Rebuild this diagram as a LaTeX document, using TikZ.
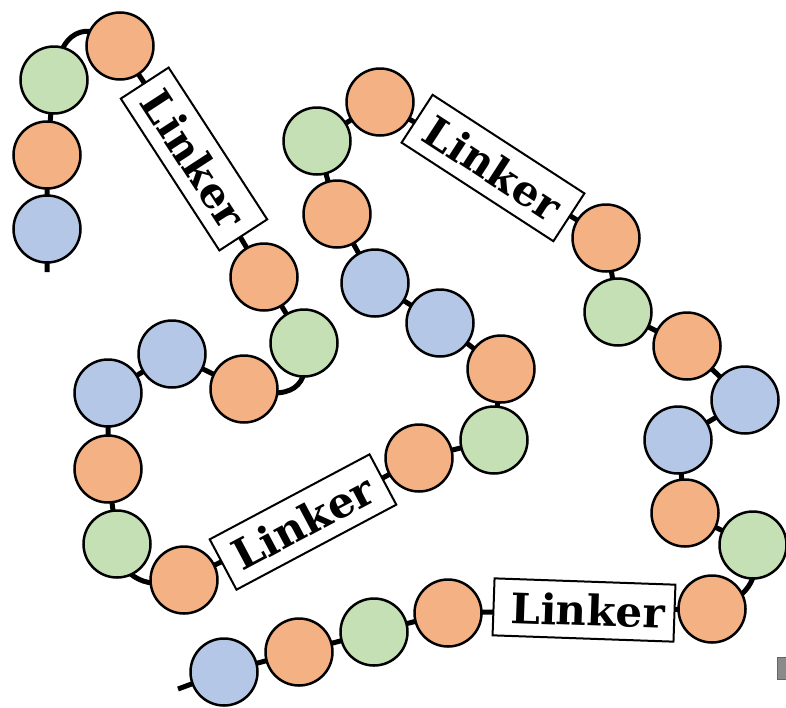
\documentclass[tikz,border=0pt]{standalone}
\usepackage{fontspec}
\setmainfont{DejaVu Serif}
\usetikzlibrary{backgrounds}
\definecolor{borange}{HTML}{F4B183}
\definecolor{bgreen}{HTML}{C5E0B4}
\definecolor{bblue}{HTML}{B4C7E7}
\tikzset{
 bead/.style={circle, draw=black, line width=2.5pt, minimum size=67pt, inner sep=0pt},
 ob/.style={bead, fill=borange},
 gb/.style={bead, fill=bgreen},
 bb/.style={bead, fill=bblue},
 linkerbox/.style={rectangle, draw=black, fill=white, line width=2pt, minimum width=181pt, minimum height=57pt, inner sep=0pt, font=\fontsize{42}{42}\selectfont\bfseries},
 chain/.style={line width=5pt, black},
}
\begin{document}
\begin{tikzpicture}[x=1pt,y=-1pt]
\useasboundingbox (0,0) rectangle (786,707);
\clip (0,0) rectangle (786,707);
\coordinate (e1) at (47,272);
\node[bb] (b1) at (47,229) {};
\node[ob] (b2) at (47,155) {};
\node[gb] (b3) at (54,80) {};
\node[ob] (b4) at (120,46) {};
\node[linkerbox, rotate=-57] (L1) at (194,159) {Linker};
\node[ob] (b5) at (264,277) {};
\node[gb] (b6) at (304,343) {};
\node[ob] (b7) at (244,389) {};
\node[bb] (b8) at (172,354) {};
\node[bb] (b9) at (108,393) {};
\node[ob] (b10) at (108,469) {};
\node[gb] (b11) at (117,544) {};
\node[ob] (b12) at (184,580) {};
\node[linkerbox, rotate=28] (L2) at (303,522) {Linker};
\node[ob] (b13) at (419,458) {};
\node[gb] (b14) at (494,440) {};
\node[ob] (b15) at (501,369) {};
\node[bb] (b16) at (440,323) {};
\node[bb] (b17) at (375,283) {};
\node[ob] (b18) at (337,214) {};
\node[gb] (b19) at (317,141) {};
\node[ob] (b20) at (380,102) {};
\node[linkerbox, rotate=-33] (L3) at (493,168) {Linker};
\node[ob] (b21) at (606,238) {};
\node[gb] (b22) at (618,312) {};
\node[ob] (b23) at (687,346) {};
\node[bb] (b24) at (745,400) {};
\node[bb] (b25) at (678,440) {};
\node[ob] (b26) at (685,513) {};
\node[gb] (b27) at (753,545) {};
\node[ob] (b28) at (712,609) {};
\node[linkerbox, rotate=-2] (L4) at (584,610) {\hspace{8pt}Linker};
\node[ob] (b29) at (448,613) {};
\node[gb] (b30) at (374,632) {};
\node[ob] (b31) at (299,652) {};
\node[bb] (b32) at (224,672) {};
\coordinate (e2) at (178,689);
\node[rectangle, draw={rgb,255:red,100;green,100;blue,100}, fill={rgb,255:red,138;green,138;blue,138}, line width=1pt, minimum width=14pt, minimum height=22pt, inner sep=0pt] (gr) at (784,668) {};
\begin{scope}[on background layer]
\draw[chain] (e1) -- (b1.center) -- (b2.center) -- (b3.center);
\draw[chain] (b3.center) .. controls (61,20) and (95,24) .. (b4.center);
\draw[chain] (b4.center) -- (L1.center) -- (b5.center) -- (b6.center);
\draw[chain] (b6.center) .. controls (312,390) and (290,400) .. (b7.center);
\draw[chain] (b7.center) -- (b8.center) -- (b9.center) -- (b10.center) -- (b11.center);
\draw[chain] (b11.center) .. controls (120,580) and (150,590) .. (b12.center);
\draw[chain] (b12.center) -- (L2.center) -- (b13.center) -- (b14.center) -- (b15.center) -- (b16.center) -- (b17.center) -- (b18.center) -- (b19.center) -- (b20.center) -- (L3.center) -- (b21.center) -- (b22.center) -- (b23.center) -- (b24.center) -- (b25.center) -- (b26.center) -- (b27.center);
\draw[chain] (b27.center) .. controls (762,580) and (745,600) .. (b28.center);
\draw[chain] (b28.center) -- (L4.center) -- (b29.center) -- (b30.center) -- (b31.center) -- (b32.center) -- (e2);
\end{scope}
\end{tikzpicture}
\end{document}
